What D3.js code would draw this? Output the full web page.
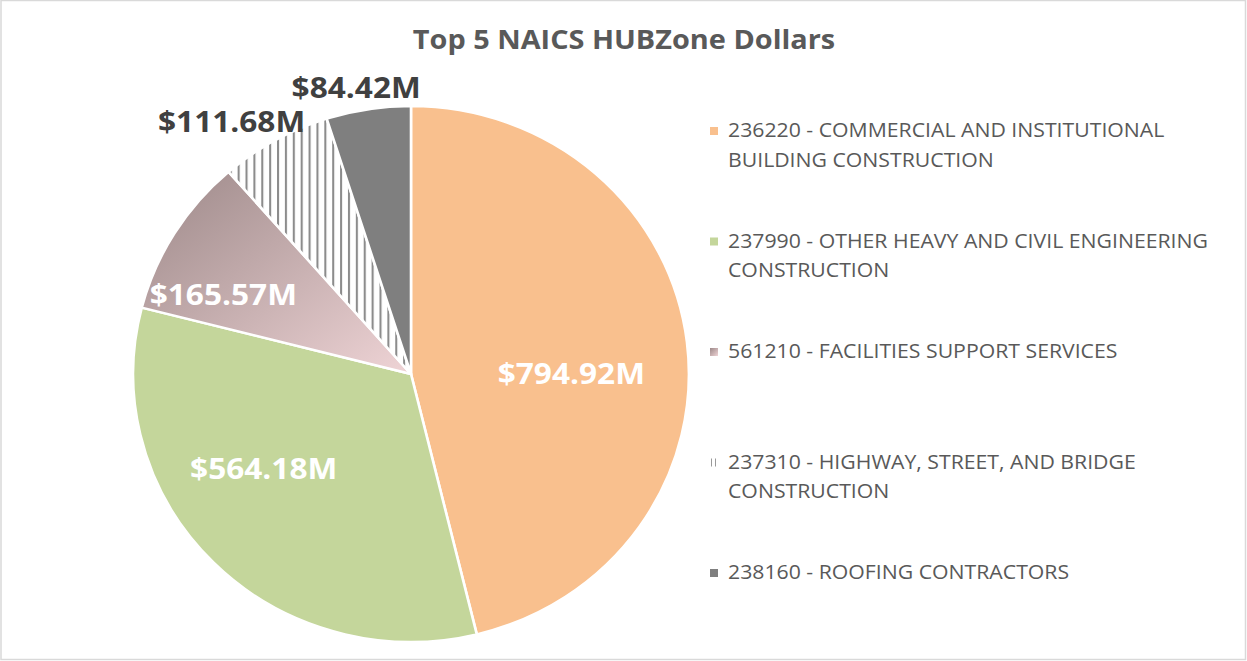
<!DOCTYPE html>
<html>
<head>
<meta charset="utf-8">
<script src="https://cdn.jsdelivr.net/npm/d3@7"></script>
<style>
  body { margin: 0; background: #fff; }
  text { font-family: "Open Sans", Lato, sans-serif; }
</style>
</head>
<body>
<div id="chart"></div>
<script>
// chart data
var categories = [
  "236220 - COMMERCIAL AND INSTITUTIONAL BUILDING CONSTRUCTION",
  "237990 - OTHER HEAVY AND CIVIL ENGINEERING CONSTRUCTION",
  "561210 - FACILITIES SUPPORT SERVICES",
  "237310 - HIGHWAY, STREET, AND BRIDGE CONSTRUCTION",
  "238160 - ROOFING CONTRACTORS"
];
var values = [794.92, 564.18, 165.57, 111.68, 84.42];
var valueLabels = ["$794.92M", "$564.18M", "$165.57M", "$111.68M", "$84.42M"];
var title = "Top 5 NAICS HUBZone Dollars";

function PieChart(){
    var w = 1247;
    var h = 661;
    var cx = 411, cy = 374;
    var r = 268;
    var sx = 1.037; // the picture is a little wider than tall
    var tx = 1.09;  // text is drawn wide too

    var svg = d3.select("#chart")
                .append("svg")
                .attr("width", w)
                .attr("height", h);

    // frame
    svg.append("rect")
        .attr("x", 1).attr("y", 0.5)
        .attr("width", w - 2.5).attr("height", h - 2)
        .attr("fill", "#fff")
        .attr("stroke", "#d9d9d9")
        .attr("stroke-width", 1.5);

    var defs = svg.append("defs");

    // gradient for the 561210 slice
    var grad = defs.append("linearGradient")
        .attr("id", "mauve")
        .attr("x1", "0%").attr("y1", "0%")
        .attr("x2", "100%").attr("y2", "100%");
    grad.append("stop").attr("offset", "0%").attr("stop-color", "#9c8888");
    grad.append("stop").attr("offset", "100%").attr("stop-color", "#efd4d6");

    // vertical hatch for 237310
    var hatch = defs.append("pattern")
        .attr("id", "hatch")
        .attr("patternUnits", "userSpaceOnUse")
        .attr("width", 7.6).attr("height", 10);
    hatch.append("rect").attr("width", 7.6).attr("height", 10).attr("fill", "#fff");
    hatch.append("rect").attr("x", 0).attr("width", 2).attr("height", 10).attr("fill", "#8c8c8c");

    var hatchSmall = defs.append("pattern")
        .attr("id", "hatchSmall")
        .attr("patternUnits", "userSpaceOnUse")
        .attr("width", 4).attr("height", 10);
    hatchSmall.append("rect").attr("width", 4).attr("height", 10).attr("fill", "#fff");
    hatchSmall.append("rect").attr("x", 1).attr("width", 1).attr("height", 10).attr("fill", "#9a9a9a");

    var fills = ["#f9c08e", "#c4d69b", "url(#mauve)", "url(#hatch)", "#7f7f7f"];
    var legendFills = ["#f9c08e", "#c4d69b", "url(#mauve)", "url(#hatchSmall)", "#7f7f7f"];

    var color = d3.scaleOrdinal()
                .domain(categories)
                .range(fills);

    var pie = d3.pie().sort(null).value(function(d){ return d.value; });
    var data = categories.map(function(c, i){
        return { name: c, value: values[i], label: valueLabels[i], i: i };
    });
    var arcs = pie(data);

    var arc = d3.arc().innerRadius(0).outerRadius(r);

    // title
    svg.append("text")
        .attr("transform", "translate(624,49) scale(" + tx + ",1)")
        .attr("text-anchor", "middle")
        .attr("font-size", 26.5)
        .attr("font-weight", "bold")
        .attr("fill", "#595959")
        .text(title);

    var pieG = svg.append("g")
        .attr("transform", "translate(" + cx + "," + cy + ") scale(" + sx + ",1)");

    pieG.selectAll("path")
        .data(arcs)
        .enter()
        .append("path")
        .attr("d", arc)
        .attr("fill", function(d){ return color(d.data.name); })
        .attr("stroke", "#fff")
        .attr("stroke-width", 2.5)
        .attr("stroke-linejoin", "round");

    // data labels: best fit, big slices inside, small ones outside
    var labelG = svg.append("g").attr("transform", "translate(" + cx + "," + cy + ")");

    labelG.selectAll("text")
        .data(arcs)
        .enter()
        .append("text")
        .attr("font-size", 29)
        .attr("font-weight", "bold")
        .attr("text-anchor", "middle")
        .attr("dy", "0.36em")
        .attr("fill", function(d){ return (d.endAngle - d.startAngle) > 0.5 ? "#fff" : "#404040"; })
        .text(function(d){ return d.data.label; })
        .each(function(d){
            var t = d3.select(this);
            var span = d.endAngle - d.startAngle;
            var a = (d.startAngle + d.endAngle) / 2;
            var x, y;
            if (span > 0.5) {
                // wide labels sit nearer the horizontal, thin slices push them out
                var horiz = a < Math.PI ? Math.PI / 2 : Math.PI * 1.5;
                var a2 = a + (horiz - a) * 0.25;
                if (Math.abs(horiz - a) < 0.15) a2 = horiz;
                var rr = r * (0.78 - 0.07 * span);
                x = Math.sin(a2) * rr * sx;
                y = -Math.cos(a2) * rr;
            } else {
                var bw = this.getComputedTextLength() * tx;
                x = Math.sin(a) * (r + 14) * sx + Math.sin(a) * bw / 2;
                y = -Math.cos(a) * (r + 8) - Math.cos(a) * 14;
            }
            t.attr("transform", "translate(" + x + "," + y + ") scale(" + tx + ",1)");
        });

    // legend
    var legend = svg.append("g").attr("transform", "translate(710,0)");
    var step = 110.5;
    var items = legend.selectAll("g.item")
        .data(categories)
        .enter()
        .append("g")
        .attr("class", "item")
        .attr("transform", function(d, i){ return "translate(0," + (131 + i * step) + ")"; });

    items.append("rect")
        .attr("x", 0).attr("y", -4)
        .attr("width", 8).attr("height", 8)
        .attr("fill", function(d, i){ return legendFills[i]; });

    items.each(function(d){
        var g = d3.select(this);
        var txt = g.append("text")
            .attr("transform", "translate(18,6) scale(" + tx + ",1)")
            .attr("font-size", 19.5)
            .attr("fill", "#595959");
        var words = d.split(" ");
        var line = [];
        var tspan = txt.append("tspan").attr("x", 0).attr("dy", 0);
        words.forEach(function(word){
            line.push(word);
            tspan.text(line.join(" "));
            if (tspan.node().getComputedTextLength() * tx > 505 && line.length > 1) {
                line.pop();
                tspan.text(line.join(" "));
                line = [word];
                tspan = txt.append("tspan").attr("x", 0).attr("dy", 30).text(word);
            }
        });
    });
}

window.onload = PieChart();
</script>
</body>
</html>
